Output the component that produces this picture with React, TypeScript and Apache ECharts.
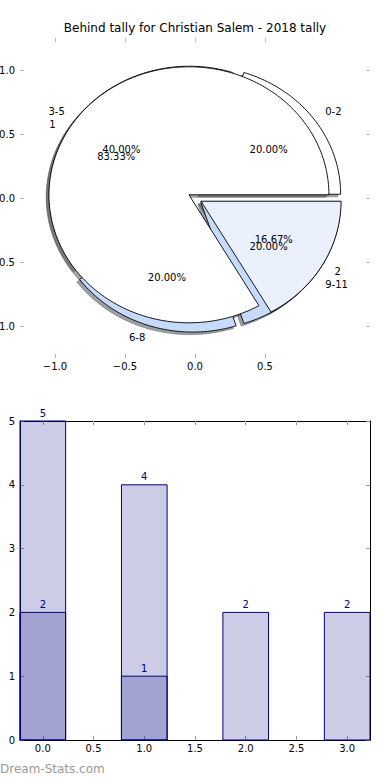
import React, { useEffect, useRef } from 'react';
import * as echarts from 'echarts';

// ---------- data ----------
const TITLE = 'Behind tally for Christian Salem - 2018 tally';
const outerLabels = ['0-2', '3-5', '6-8', '9-11'];
const outerValues = [1, 2, 1, 1];
const innerLabels = ['1', '2'];
const innerValues = [5, 1];
const pieXTicks = [-1, -0.5, 0, 0.5];
const pieYTicks = [-1, -0.5, 0, 0.5, 1];

const barX = [0, 1, 2, 3];
const barTotals = [5, 4, 2, 2];
const barBehindX = [0, 1];
const barBehind = [2, 1];
const barXTicks = [0, 0.5, 1, 1.5, 2, 2.5, 3];
const barYTicks = [0, 1, 2, 3, 4, 5];
const WATERMARK = 'Dream-Stats.com';

// ---------- styles ----------
const outerColors = ['#ffffff', '#ffffff', '#c6dbf9', '#c6dbf9'];
const innerColors = ['#ffffff', '#eaf1fd'];
const EXPLODE = 0.05;
const LABEL_DIST = 1.1;
const PCT_DIST = 0.6;
const SHADOW_OFF = -0.02;
const BAR_HALF = 0.225;
const FONT = '"DejaVu Sans", Verdana, sans-serif';
const TICK_COLOR = '#b4b4b4';

type Slice = { t1: number; t2: number; pct: number };
function toSlices(values: number[]): Slice[] {
  const total = values.reduce((a, b) => a + b, 0);
  let acc = 0;
  return values.map((v) => {
    const t1 = acc / total;
    acc += v;
    return { t1, t2: acc / total, pct: (v / total) * 100 };
  });
}

function shadowColor(hex: string) {
  const r = parseInt(hex.slice(1, 3), 16);
  const g = parseInt(hex.slice(3, 5), 16);
  const b = parseInt(hex.slice(5, 7), 16);
  return `rgba(${Math.round(r * 0.3)},${Math.round(g * 0.3)},${Math.round(b * 0.3)},0.5)`;
}

function fmt(v: number) {
  return v.toFixed(1).replace('-', '\u2212');
}

function wedgeSeries(values: number[], colors: string[], shadow: boolean) {
  const sl = toSlices(values);
  return {
    type: 'custom',
    coordinateSystem: 'cartesian2d',
    xAxisIndex: 0,
    yAxisIndex: 0,
    silent: true,
    data: values.map((v, i) => [i, v]),
    renderItem: (params: any, api: any) => {
      const i = params.dataIndex;
      const s = sl[i];
      const a1 = 2 * Math.PI * s.t1;
      const a2 = 2 * Math.PI * s.t2;
      const am = (a1 + a2) / 2;
      const ox = shadow ? SHADOW_OFF : 0;
      const oy = shadow ? SHADOW_OFF : 0;
      const cx = EXPLODE * Math.cos(am) + ox;
      const cy = EXPLODE * Math.sin(am) + oy;
      const pts: number[][] = [api.coord([cx, cy])];
      const n = Math.max(2, Math.ceil((a2 - a1) / (Math.PI / 120)));
      for (let k = 0; k <= n; k++) {
        const a = a1 + ((a2 - a1) * k) / n;
        pts.push(api.coord([cx + Math.cos(a), cy + Math.sin(a)]));
      }
      const c = colors[i % colors.length];
      const fill = shadow ? shadowColor(c) : c;
      return {
        type: 'polygon',
        shape: { points: pts },
        style: {
          fill,
          stroke: shadow ? fill : '#000',
          lineWidth: shadow ? 0.8 : 0.9,
        },
      };
    },
  };
}

function pieLabelSeries(values: number[], labels: string[]) {
  const sl = toSlices(values);
  return {
    type: 'custom',
    coordinateSystem: 'cartesian2d',
    xAxisIndex: 0,
    yAxisIndex: 0,
    silent: true,
    data: values.map((v, i) => [i, v]),
    renderItem: (params: any, api: any) => {
      const i = params.dataIndex;
      const s = sl[i];
      const am = Math.PI * (s.t1 + s.t2);
      const cx = EXPLODE * Math.cos(am);
      const cy = EXPLODE * Math.sin(am);
      const lx = cx + LABEL_DIST * Math.cos(am);
      const ly = cy + LABEL_DIST * Math.sin(am);
      const px = cx + PCT_DIST * Math.cos(am);
      const py = cy + PCT_DIST * Math.sin(am);
      const lp = api.coord([lx, ly]);
      const pp = api.coord([px, py]);
      return {
        type: 'group',
        children: [
          {
            type: 'text',
            x: lp[0],
            y: lp[1],
            style: {
              text: labels[i],
              fill: '#000',
              font: `10px ${FONT}`,
              align: lx > 0 ? 'left' : 'right',
              verticalAlign: 'middle',
            },
          },
          {
            type: 'text',
            x: pp[0],
            y: pp[1],
            style: {
              text: s.pct.toFixed(2) + '%',
              fill: '#000',
              font: `10px ${FONT}`,
              align: 'center',
              verticalAlign: 'middle',
            },
          },
        ],
      };
    },
  };
}

function barSeries(xs: number[], ys: number[]) {
  return {
    type: 'custom',
    coordinateSystem: 'cartesian2d',
    xAxisIndex: 2,
    yAxisIndex: 2,
    silent: true,
    data: xs.map((x, i) => [x, ys[i]]),
    renderItem: (params: any, api: any) => {
      const x = api.value(0);
      const y = api.value(1);
      const p1 = api.coord([x - BAR_HALF, y]);
      const p2 = api.coord([x + BAR_HALF, 0]);
      const pt = api.coord([x, y]);
      return {
        type: 'group',
        children: [
          {
            type: 'rect',
            shape: { x: p1[0], y: p1[1], width: p2[0] - p1[0], height: p2[1] - p1[1] },
            style: { fill: 'rgba(0,0,128,0.2)', stroke: '#000080', lineWidth: 1 },
          },
          {
            type: 'text',
            x: pt[0],
            y: pt[1] - 3,
            style: {
              text: String(y),
              fill: '#000080',
              font: `10px ${FONT}`,
              align: 'center',
              verticalAlign: 'bottom',
            },
          },
        ],
      };
    },
  };
}

function tickAxis(base: any) {
  return {
    type: 'value',
    splitLine: { show: false },
    ...base,
  };
}

export default function App() {
  const ref = useRef<HTMLDivElement>(null);
  useEffect(() => {
    if (!ref.current) return;
    const chart = echarts.init(ref.current, undefined, { renderer: 'svg' });
    const labelStyle = { color: '#000', fontSize: 10, fontFamily: FONT };
    const pieTick = (vals: number[]) => ({
      show: true,
      inside: true,
      length: 4,
      customValues: vals,
      lineStyle: { color: TICK_COLOR, width: 1 },
    });
    const barTick = (vals: number[]) => ({
      show: true,
      inside: true,
      length: 4,
      customValues: vals,
      lineStyle: { color: '#999', width: 1 },
    });
    const frameLine = { show: true, onZero: false, lineStyle: { color: '#000', width: 1 } };
    const noLine = { show: false, onZero: false };

    chart.setOption({
      animation: false,
      backgroundColor: '#fff',
      title: {
        text: TITLE,
        left: 'center',
        top: 22,
        padding: 0,
        textStyle: { fontSize: 12, fontWeight: 'normal', fontFamily: FONT, color: '#000' },
      },
      grid: [
        { left: 20, top: 38, width: 350, height: 320, containLabel: false, outerBoundsMode: 'none' },
        { left: 20, top: 421, width: 350, height: 319, containLabel: false, outerBoundsMode: 'none' },
      ],
      xAxis: [
        tickAxis({
          gridIndex: 0, position: 'bottom', min: -1.25, max: 1.25,
          axisLine: noLine, axisTick: pieTick(pieXTicks),
          axisLabel: { ...labelStyle, customValues: pieXTicks, formatter: fmt, margin: 3 },
        }),
        tickAxis({
          gridIndex: 0, position: 'top', min: -1.25, max: 1.25,
          axisLine: noLine, axisTick: pieTick(pieXTicks), axisLabel: { show: false },
        }),
        tickAxis({
          gridIndex: 1, position: 'bottom', min: -BAR_HALF, max: 3 + BAR_HALF,
          axisLine: frameLine, axisTick: barTick(barXTicks),
          axisLabel: { ...labelStyle, customValues: barXTicks, formatter: fmt, margin: 3 },
        }),
        tickAxis({
          gridIndex: 1, position: 'top', min: -BAR_HALF, max: 3 + BAR_HALF,
          axisLine: frameLine, axisTick: barTick(barXTicks), axisLabel: { show: false },
        }),
      ],
      yAxis: [
        tickAxis({
          gridIndex: 0, position: 'left', min: -1.25, max: 1.25,
          axisLine: noLine, axisTick: pieTick(pieYTicks),
          axisLabel: { ...labelStyle, customValues: pieYTicks, formatter: fmt, margin: 5 },
        }),
        tickAxis({
          gridIndex: 0, position: 'right', min: -1.25, max: 1.25,
          axisLine: noLine, axisTick: pieTick(pieYTicks), axisLabel: { show: false },
        }),
        tickAxis({
          gridIndex: 1, position: 'left', min: 0, max: 5,
          axisLine: frameLine, axisTick: barTick(barYTicks),
          axisLabel: { ...labelStyle, customValues: barYTicks, margin: 5 },
        }),
        tickAxis({
          gridIndex: 1, position: 'right', min: 0, max: 5,
          axisLine: frameLine, axisTick: barTick(barYTicks), axisLabel: { show: false },
        }),
      ],
      graphic: [
        {
          type: 'text',
          left: 0,
          top: 763,
          style: { text: WATERMARK, fill: '#999', font: `12px ${FONT}` },
        },
      ],
      series: [
        wedgeSeries(outerValues, outerColors, true),
        wedgeSeries(innerValues, innerColors, true),
        wedgeSeries(outerValues, outerColors, false),
        wedgeSeries(innerValues, innerColors, false),
        pieLabelSeries(outerValues, outerLabels),
        pieLabelSeries(innerValues, innerLabels),
        barSeries(barBehindX, barBehind),
        barSeries(barX, barTotals),
      ],
    });
    return () => chart.dispose();
  }, []);
  return (
    <div
      ref={ref}
      style={{ position: 'absolute', left: 0, top: 0, width: 390, height: 780 }}
    />
  );
}
